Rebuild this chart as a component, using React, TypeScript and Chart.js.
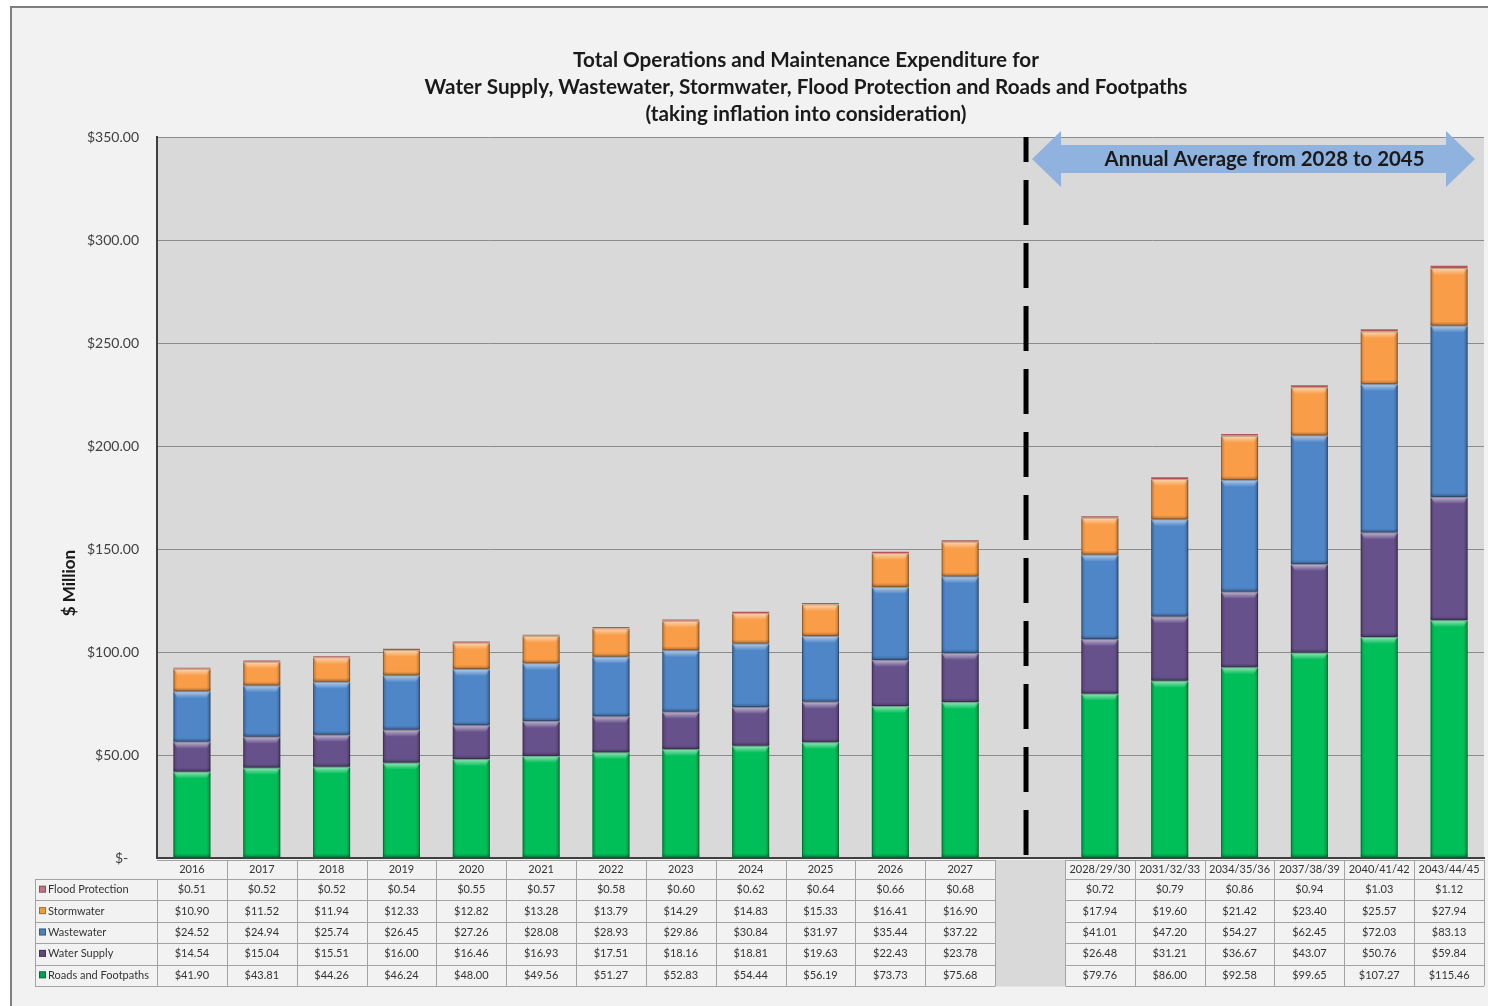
import React, { useEffect, useRef } from "react";
import { Chart, registerables } from "chart.js";

Chart.register(...registerables);

const categories = [
  "2016", "2017", "2018", "2019", "2020", "2021", "2022", "2023", "2024", "2025", "2026", "2027",
  "",
  "2028/29/30", "2031/32/33", "2034/35/36", "2037/38/39", "2040/41/42", "2043/44/45",
];

const roads = [41.90, 43.81, 44.26, 46.24, 48.00, 49.56, 51.27, 52.83, 54.44, 56.19, 73.73, 75.68, null, 79.76, 86.00, 92.58, 99.65, 107.27, 115.46];
const waterSupply = [14.54, 15.04, 15.51, 16.00, 16.46, 16.93, 17.51, 18.16, 18.81, 19.63, 22.43, 23.78, null, 26.48, 31.21, 36.67, 43.07, 50.76, 59.84];
const wastewater = [24.52, 24.94, 25.74, 26.45, 27.26, 28.08, 28.93, 29.86, 30.84, 31.97, 35.44, 37.22, null, 41.01, 47.20, 54.27, 62.45, 72.03, 83.13];
const stormwater = [10.90, 11.52, 11.94, 12.33, 12.82, 13.28, 13.79, 14.29, 14.83, 15.33, 16.41, 16.90, null, 17.94, 19.60, 21.42, 23.40, 25.57, 27.94];
const floodProtection = [0.51, 0.52, 0.52, 0.54, 0.55, 0.57, 0.58, 0.60, 0.62, 0.64, 0.66, 0.68, null, 0.72, 0.79, 0.86, 0.94, 1.03, 1.12];

const titleLines = [
  "Total Operations and Maintenance Expenditure for",
  "Water Supply, Wastewater, Stormwater, Flood Protection and Roads and Footpaths",
  "(taking inflation into consideration)",
];
const annotationText = "Annual Average from 2028 to 2045";
const yAxisTitle = "$ Million";
const gapIndex = 12;

const FONT = "Lato, 'Open Sans', sans-serif";

// table rows in display order (top to bottom)
const tableRows = [
  { label: "Flood Protection", values: floodProtection, swatch: "#c07684" },
  { label: "Stormwater", values: stormwater, swatch: "#e8a040" },
  { label: "Wastewater", values: wastewater, swatch: "#4f81bd" },
  { label: "Water Supply", values: waterSupply, swatch: "#5f4a7b" },
  { label: "Roads and Footpaths", values: roads, swatch: "#00a050" },
];

const backgroundPlugin = {
  id: "bgPlugin",
  beforeDraw(chart: any) {
    const { ctx, chartArea, width, height } = chart;
    ctx.save();
    ctx.fillStyle = "#ffffff";
    ctx.fillRect(0, 0, width, height);
    ctx.fillStyle = "#f2f2f2";
    ctx.fillRect(11, 7, width, height);
    ctx.strokeStyle = "#7f7f7f";
    ctx.lineWidth = 2;
    ctx.beginPath();
    ctx.moveTo(11, height + 5);
    ctx.lineTo(11, 7);
    ctx.lineTo(width + 5, 7);
    ctx.stroke();
    ctx.fillStyle = "#d9d9d9";
    ctx.fillRect(chartArea.left, chartArea.top, chartArea.right - chartArea.left, chartArea.bottom - chartArea.top);
    ctx.restore();
  },
};

const bevelPlugin = {
  id: "bevelPlugin",
  afterDatasetsDraw(chart: any) {
    const { ctx } = chart;
    ctx.save();
    chart.data.datasets.forEach((ds: any, di: number) => {
      const meta = chart.getDatasetMeta(di);
      meta.data.forEach((bar: any, i: number) => {
        if (ds.data[i] == null) return;
        const w = bar.width;
        const left = bar.x - w / 2;
        const top = Math.min(bar.y, bar.base);
        const h = Math.abs(bar.base - bar.y);
        if (h < 3) return;
        // top highlight
        const hl = Math.min(7, h / 2);
        const g = ctx.createLinearGradient(0, top, 0, top + hl);
        g.addColorStop(0, "rgba(255,255,255,0.6)");
        g.addColorStop(1, "rgba(255,255,255,0)");
        ctx.fillStyle = g;
        ctx.beginPath();
        ctx.moveTo(left, top);
        ctx.lineTo(left + w, top);
        ctx.lineTo(left + w - 4, top + hl);
        ctx.lineTo(left + 4, top + hl);
        ctx.closePath();
        ctx.fill();
        // sides
        const gl = ctx.createLinearGradient(left, 0, left + 4, 0);
        gl.addColorStop(0, "rgba(0,0,0,0.22)");
        gl.addColorStop(1, "rgba(0,0,0,0)");
        ctx.fillStyle = gl;
        ctx.fillRect(left, top + 1, 4, h - 2);
        const gr = ctx.createLinearGradient(left + w - 4, 0, left + w, 0);
        gr.addColorStop(0, "rgba(0,0,0,0)");
        gr.addColorStop(1, "rgba(0,0,0,0.28)");
        ctx.fillStyle = gr;
        ctx.fillRect(left + w - 4, top + 1, 4, h - 2);
        // bottom shade
        const gb = ctx.createLinearGradient(0, top + h - 4, 0, top + h);
        gb.addColorStop(0, "rgba(0,0,0,0)");
        gb.addColorStop(1, "rgba(0,0,0,0.3)");
        ctx.fillStyle = gb;
        ctx.fillRect(left, top + h - 4, w, 4);
        ctx.strokeStyle = "rgba(0,0,0,0.25)";
        ctx.lineWidth = 1;
        ctx.strokeRect(left + 0.5, top + 0.5, w - 1, h - 1);
      });
    });
    ctx.restore();
  },
};

const annotationPlugin = {
  id: "annotationPlugin",
  afterDatasetsDraw(chart: any) {
    const { ctx, chartArea, scales } = chart;
    const x = scales.x;
    const y = scales.y;
    const lineX = x.getPixelForValue(gapIndex) - 4;
    ctx.save();
    // dashed separator
    ctx.strokeStyle = "#000000";
    ctx.lineWidth = 5;
    ctx.setLineDash([45, 18]);
    ctx.lineDashOffset = 20;
    ctx.beginPath();
    ctx.moveTo(lineX, chartArea.top);
    ctx.lineTo(lineX, chartArea.bottom);
    ctx.stroke();
    ctx.setLineDash([]);

    // double-headed arrow
    const leftTip = lineX + 6;
    const rightTip = chartArea.right - 9;
    const cy = y.getPixelForValue(339.3);
    const headLen = 29;
    const headHalf = 28;
    const shaftHalf = 14;
    ctx.fillStyle = "#8fb2de";
    ctx.beginPath();
    ctx.moveTo(leftTip, cy);
    ctx.lineTo(leftTip + headLen, cy - headHalf);
    ctx.lineTo(leftTip + headLen, cy - shaftHalf);
    ctx.lineTo(rightTip - headLen, cy - shaftHalf);
    ctx.lineTo(rightTip - headLen, cy - headHalf);
    ctx.lineTo(rightTip, cy);
    ctx.lineTo(rightTip - headLen, cy + headHalf);
    ctx.lineTo(rightTip - headLen, cy + shaftHalf);
    ctx.lineTo(leftTip + headLen, cy + shaftHalf);
    ctx.lineTo(leftTip + headLen, cy + headHalf);
    ctx.closePath();
    ctx.fill();
    ctx.fillStyle = "#1a1a1a";
    ctx.font = `bold 20.4px ${FONT}`;
    ctx.textAlign = "center";
    ctx.textBaseline = "middle";
    ctx.fillText(annotationText, (leftTip + rightTip) / 2 + 11, cy);
    ctx.restore();
  },
};

const textTablePlugin = {
  id: "textTablePlugin",
  afterDraw(chart: any) {
    const { ctx, chartArea, scales } = chart;
    const x = scales.x;
    ctx.save();
    // title
    ctx.fillStyle = "#1a1a1a";
    ctx.font = `bold 20.7px ${FONT}`;
    ctx.textAlign = "center";
    ctx.textBaseline = "middle";
    titleLines.forEach((t, i) => ctx.fillText(t, 806, 60 + i * 27));

    // y-axis title
    ctx.save();
    ctx.translate(70, 583);
    ctx.rotate(-Math.PI / 2);
    ctx.font = `bold 17px ${FONT}`;
    ctx.fillText(yAxisTitle, 0, 0);
    ctx.restore();

    // data table
    const colW = x.getPixelForValue(1) - x.getPixelForValue(0);
    const headerTop = chartArea.bottom + 2;
    const rowTop = headerTop + 19;
    const rowH = 21.4;
    const tableBottom = rowTop + rowH * tableRows.length;
    const labelLeft = 35;
    const lineColor = "#a3a3a3";

    const gapL = Math.round(chartArea.left + gapIndex * colW) + 0.5;
    const gapR = Math.round(chartArea.left + (gapIndex + 1) * colW) + 0.5;

    ctx.strokeStyle = lineColor;
    ctx.lineWidth = 1;
    ctx.beginPath();
    // horizontal lines (skip the gap column)
    const hLine = (yy: number, from: number) => {
      ctx.moveTo(from, yy);
      ctx.lineTo(gapL, yy);
      ctx.moveTo(gapR, yy);
      ctx.lineTo(chartArea.right, yy);
    };
    hLine(Math.round(headerTop) + 0.5, chartArea.left);
    for (let r = 0; r <= tableRows.length; r++) {
      hLine(Math.round(rowTop + r * rowH) + 0.5, labelLeft);
    }
    // vertical lines
    ctx.moveTo(labelLeft + 0.5, rowTop);
    ctx.lineTo(labelLeft + 0.5, tableBottom);
    for (let i = 0; i <= categories.length; i++) {
      const xx = Math.round(chartArea.left + i * colW) + 0.5;
      ctx.moveTo(xx, i === 0 ? rowTop : headerTop);
      ctx.lineTo(xx, tableBottom);
    }
    ctx.stroke();

    // gap column fill
    ctx.fillStyle = "#d9d9d9";
    ctx.fillRect(gapL + 0.5, headerTop, gapR - gapL - 1, tableBottom - headerTop + 0.5);

    ctx.font = `11px ${FONT}`;
    ctx.fillStyle = "#333333";
    ctx.textBaseline = "middle";
    ctx.textAlign = "center";
    categories.forEach((c, i) => {
      if (i === gapIndex) return;
      ctx.fillText(c, x.getPixelForValue(i), headerTop + 9.5);
    });
    tableRows.forEach((row, r) => {
      const cy = rowTop + r * rowH + rowH / 2;
      ctx.textAlign = "left";
      ctx.fillStyle = row.swatch;
      ctx.fillRect(labelLeft + 4, cy - 4, 7, 7);
      ctx.strokeStyle = "rgba(0,0,0,0.3)";
      ctx.strokeRect(labelLeft + 4.5, cy - 3.5, 6, 6);
      ctx.fillStyle = "#333333";
      ctx.fillText(row.label, labelLeft + 13, cy);
      ctx.textAlign = "center";
      row.values.forEach((v, i) => {
        if (v == null) return;
        ctx.fillText("$" + v.toFixed(2), x.getPixelForValue(i), cy);
      });
    });
    ctx.restore();
  },
};

export default function App() {
  const canvasRef = useRef<HTMLCanvasElement | null>(null);

  useEffect(() => {
    if (!canvasRef.current) return;
    const mk = (label: string, data: (number | null)[], color: string) => ({
      label,
      data,
      backgroundColor: color,
      borderWidth: 0,
      barPercentage: 0.53,
      categoryPercentage: 1,
    });
    const chart = new Chart(canvasRef.current, {
      type: "bar",
      data: {
        labels: categories,
        datasets: [
          mk("Roads and Footpaths", roads, "#00bf58"),
          mk("Water Supply", waterSupply, "#66518b"),
          mk("Wastewater", wastewater, "#4f86c8"),
          mk("Stormwater", stormwater, "#f99d48"),
          mk("Flood Protection", floodProtection, "#b5545a"),
        ],
      },
      options: {
        animation: false,
        responsive: false,
        devicePixelRatio: 1,
        layout: { padding: { top: 137, right: 4, bottom: 148, left: 0 } },
        plugins: {
          legend: { display: false },
          title: { display: false },
          tooltip: { enabled: false },
        },
        scales: {
          x: {
            stacked: true,
            grid: { display: false },
            ticks: { display: false },
            border: { display: true, color: "#3f3f3f", width: 2 },
            afterFit: (s: any) => {
              s.height = 0;
            },
          },
          y: {
            stacked: true,
            min: 0,
            max: 350,
            ticks: {
              stepSize: 50,
              padding: 18,
              color: "#404040",
              font: { family: FONT, size: 14 },
              callback: (v: any) => (Number(v) === 0 ? "$-   " : "$" + Number(v).toFixed(2)),
            },
            grid: { color: "#8c8c8c", lineWidth: 1, drawTicks: false },
            border: { display: true, color: "#3f3f3f", width: 2 },
            afterFit: (s: any) => {
              s.width = 157;
            },
          },
        },
      },
      plugins: [backgroundPlugin, bevelPlugin, annotationPlugin, textTablePlugin],
    });
    return () => chart.destroy();
  }, []);

  return (
    <div style={{ position: "absolute", left: 0, top: 0, width: 1488, height: 1006 }}>
      <canvas ref={canvasRef} width={1488} height={1006} />
    </div>
  );
}
